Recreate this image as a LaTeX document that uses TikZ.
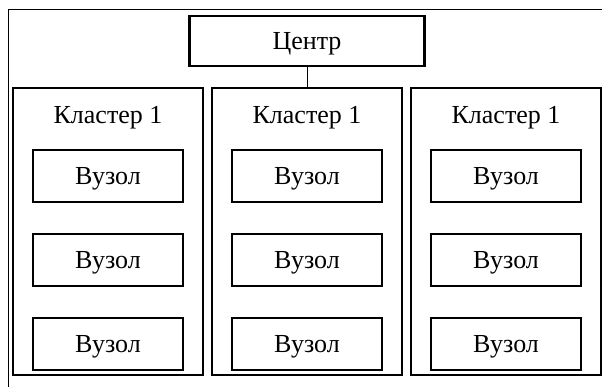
\documentclass[tikz,border=0pt]{standalone}
\usepackage{fontspec}
\setmainfont{Liberation Serif}
\usetikzlibrary{positioning}
\tikzset{%
	hub/.style      = {draw, rectangle, line width=2.1pt, minimum width=235pt, minimum height=50pt, text depth=0pt}, % Centre
	cluster/.style  = {draw, rectangle, line width=1.7pt, minimum width=190pt, minimum height=287pt}, % Cluster frame
	title/.style    = {inner sep=0pt, text depth=0pt}, % Cluster caption
	nodebox/.style  = {draw, rectangle, line width=2.1pt, minimum width=150pt, minimum height=52pt, text depth=0pt}, % Node
	link/.style     = {line width=0.9pt},
}

\begin{document}
\begin{tikzpicture}[x=1pt,y=-1pt,node distance=84pt,font=\fontsize{26pt}{30pt}\selectfont]
	\useasboundingbox (0,0) rectangle (602,387);
	\coordinate (corner) at (8,9);
	\draw [link] (corner |- 0,390) -- (corner) -- (corner -| 605,0);

	\node [cluster] (c1) at (108,231.5) {};
	\node [cluster] (c2) [right of=c1,node distance=199pt] {};
	\node [cluster] (c3) [right of=c2,node distance=199pt] {};
	\node [hub] (hub) [above of=c2,node distance=190.5pt] {Центр};

	\node [title] (t1) [below=19pt of c1.north] {Кластер 1};
	\node [title] (t2) [below=19pt of c2.north] {Кластер 1};
	\node [title] (t3) [below=19pt of c3.north] {Кластер 1};

	\node [nodebox] (n11) [below of=t1,node distance=61pt] {Вузол};
	\node [nodebox] (n12) [below of=n11] {Вузол};
	\node [nodebox] (n13) [below of=n12] {Вузол};
	\node [nodebox] (n21) [below of=t2,node distance=61pt] {Вузол};
	\node [nodebox] (n22) [below of=n21] {Вузол};
	\node [nodebox] (n23) [below of=n22] {Вузол};
	\node [nodebox] (n31) [below of=t3,node distance=61pt] {Вузол};
	\node [nodebox] (n32) [below of=n31] {Вузол};
	\node [nodebox] (n33) [below of=n32] {Вузол};

	\draw [link] (hub) -- (c2);
\end{tikzpicture}
\end{document}
